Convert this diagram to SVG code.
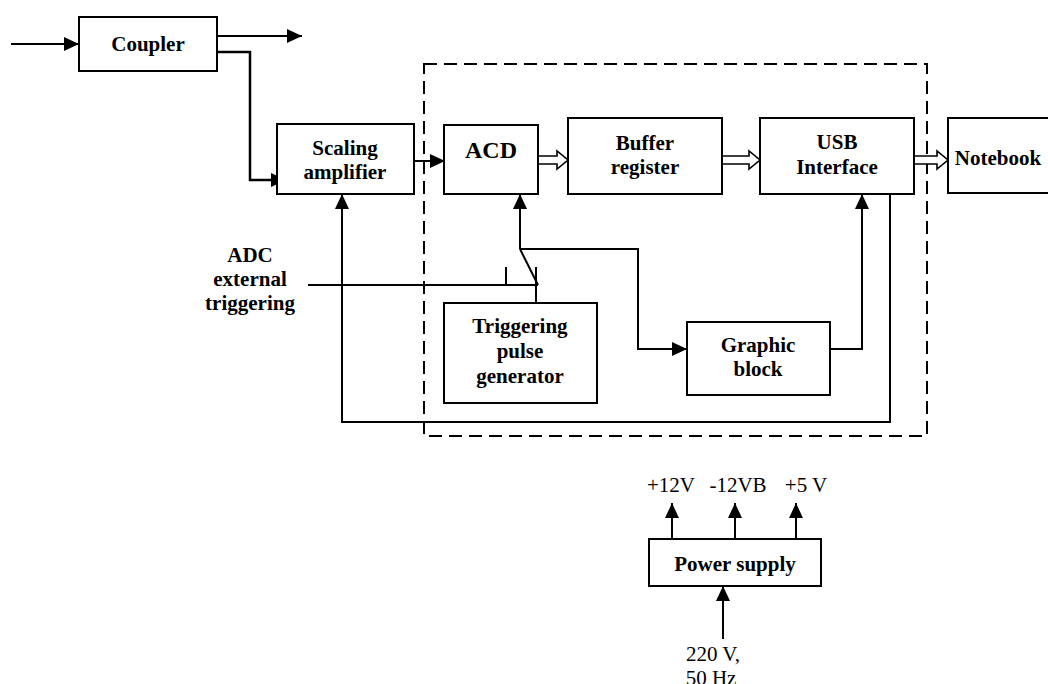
<svg xmlns="http://www.w3.org/2000/svg" width="1048" height="684" viewBox="0 0 1048 684">
<defs>
<style>
.box{fill:#fff;stroke:#000;stroke-width:2}
.ln{fill:none;stroke:#000;stroke-width:2}
.dash{fill:none;stroke:#000;stroke-width:2;stroke-dasharray:13 7}
.hol{fill:#fff;stroke:#000;stroke-width:1.6;stroke-linejoin:miter}
.b{font-family:"Liberation Serif","Times New Roman",serif;font-weight:bold;font-size:21px;text-anchor:middle;fill:#000}
.r{font-family:"Liberation Serif","Times New Roman",serif;font-size:21px;text-anchor:middle;fill:#000}
</style>
<marker id="ah" viewBox="0 0 15 14" refX="15" refY="7" markerWidth="15" markerHeight="14" markerUnits="userSpaceOnUse" orient="auto">
<path d="M0,0 L15,7 L0,14 Z" fill="#000"/>
</marker>
</defs>

<rect class="dash" x="424" y="64" width="503" height="372"/>

<g id="connectors">
<line class="ln" x1="11" y1="44" x2="79" y2="44" marker-end="url(#ah)"/>
<line class="ln" x1="217" y1="36" x2="302" y2="36" marker-end="url(#ah)"/>
<polyline class="ln" style="stroke-width:2.5" points="217,52 250,52 250,180 286,180" marker-end="url(#ah)"/>
<line class="ln" x1="414" y1="161" x2="445" y2="161" marker-end="url(#ah)"/>
<polygon class="hol" points="538,156 557,156 557,151 568,160 557,169 557,164 538,164"/>
<polygon class="hol" points="722,156 749,156 749,151 760,160 749,169 749,164 722,164"/>
<polygon class="hol" points="914,156 937,156 937,151 948,160 937,169 937,164 914,164"/>
<polyline class="ln" points="890,194 890,422 342,422 342,194" marker-end="url(#ah)"/>
<line class="ln" x1="520" y1="249" x2="520" y2="194" marker-end="url(#ah)"/>
<polyline class="ln" points="520,249 638,249 638,349 687,349" marker-end="url(#ah)"/>
<polyline class="ln" points="830,349 862,349 862,194" marker-end="url(#ah)"/>
<line class="ln" x1="308" y1="285" x2="538" y2="285"/>
<line class="ln" x1="506" y1="267" x2="506" y2="285"/>
<line class="ln" x1="536" y1="267" x2="536" y2="303"/>
<line class="ln" x1="520" y1="249" x2="538" y2="285"/>
<line class="ln" x1="672" y1="539" x2="672" y2="503" marker-end="url(#ah)"/>
<line class="ln" x1="735" y1="539" x2="735" y2="503" marker-end="url(#ah)"/>
<line class="ln" x1="796" y1="539" x2="796" y2="503" marker-end="url(#ah)"/>
<line class="ln" x1="723" y1="639" x2="723" y2="586" marker-end="url(#ah)"/>
</g>

<g id="coupler"><rect class="box" x="79" y="17" width="138" height="54"/><text class="b" x="148" y="51">Coupler</text></g>
<g id="scaling"><rect class="box" x="277" y="124" width="137" height="70"/><text class="b" x="345" y="155">Scaling</text><text class="b" x="345" y="179">amplifier</text></g>
<g id="acd"><rect class="box" x="444" y="125" width="94" height="69"/><text class="b" x="491" y="158" style="font-size:24px">ACD</text></g>
<g id="buffer"><rect class="box" x="568" y="118" width="154" height="76"/><text class="b" x="645" y="150">Buffer</text><text class="b" x="645" y="174">register</text></g>
<g id="usb"><rect class="box" x="760" y="118" width="154" height="76"/><text class="b" x="837" y="149">USB</text><text class="b" x="837" y="174">Interface</text></g>
<g id="notebook"><rect class="box" x="948" y="118" width="110" height="75"/><text class="b" x="998" y="165">Notebook</text></g>
<g id="trigger"><rect class="box" x="444" y="303" width="153" height="100"/><text class="b" x="520" y="333">Triggering</text><text class="b" x="520" y="358">pulse</text><text class="b" x="520" y="383">generator</text></g>
<g id="graphic"><rect class="box" x="687" y="322" width="143" height="73"/><text class="b" x="758" y="352">Graphic</text><text class="b" x="758" y="376">block</text></g>
<g id="adc-label"><text class="b" x="250" y="262">ADC</text><text class="b" x="250" y="286">external</text><text class="b" x="250" y="310">triggering</text></g>
<g id="power"><rect class="box" x="649" y="539" width="172" height="47"/><text class="b" x="735" y="571">Power supply</text></g>
<g id="power-labels">
<text class="r" x="671" y="492">+12V</text>
<text class="r" x="738" y="492">-12VB</text>
<text class="r" x="806" y="492">+5 V</text>
<text class="r" x="713" y="661">220 V,</text>
<text class="r" x="711" y="685">50 Hz</text>
</g>
</svg>
